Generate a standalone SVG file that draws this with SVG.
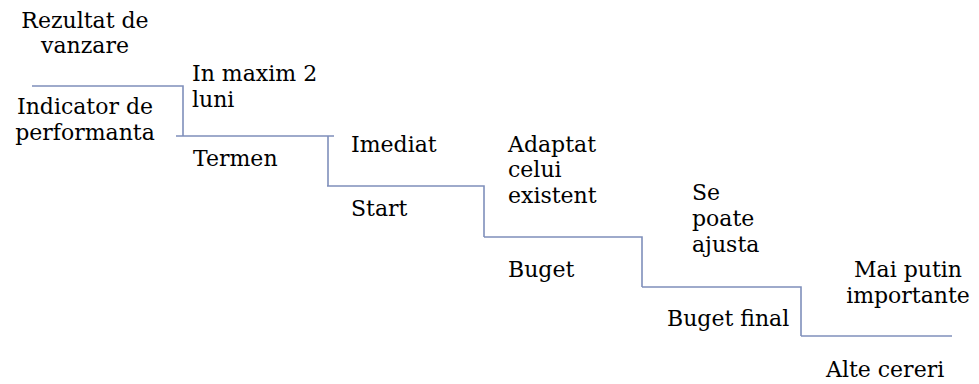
<svg xmlns="http://www.w3.org/2000/svg" width="979" height="384" viewBox="0 0 979 384">
<style>
.t{font-family:"DejaVu Serif","Liberation Serif",serif;font-size:22px;fill:#000}
.c{text-anchor:middle}
.ln{fill:none;stroke:#7f8fbb;stroke-width:1.6}
</style>
<rect width="979" height="384" fill="#fff"/>
<g id="connectors">
<path class="ln" d="M32,86 H183 V136"/>
<path class="ln" d="M176,136 H334 M328,136 V186"/>
<path class="ln" d="M327,186 H484 V237"/>
<path class="ln" d="M484,237 H642 V287"/>
<path class="ln" d="M642,287 H801 V336"/>
<path class="ln" d="M801,336 H952"/>
</g>
<g id="step1">
<text class="t c" x="85" y="28">Rezultat de</text>
<text class="t c" x="85" y="53">vanzare</text>
<text class="t c" x="85" y="114">Indicator de</text>
<text class="t c" x="85" y="140">performanta</text>
</g>
<g id="step2">
<text class="t" x="192" y="81">In maxim 2</text>
<text class="t" x="192" y="107">luni</text>
<text class="t" x="193" y="166">Termen</text>
</g>
<g id="step3">
<text class="t" x="351" y="152">Imediat</text>
<text class="t" x="351" y="216">Start</text>
</g>
<g id="step4">
<text class="t" x="508" y="152">Adaptat</text>
<text class="t" x="508" y="177">celui</text>
<text class="t" x="508" y="203">existent</text>
<text class="t" x="508" y="277">Buget</text>
</g>
<g id="step5">
<text class="t" x="692" y="200">Se</text>
<text class="t" x="692" y="226">poate</text>
<text class="t" x="692" y="252">ajusta</text>
<text class="t" x="667" y="326">Buget final</text>
</g>
<g id="step6">
<text class="t c" x="908" y="277">Mai putin</text>
<text class="t c" x="908" y="303">importante</text>
<text class="t" x="826" y="377">Alte cereri</text>
</g>
</svg>
